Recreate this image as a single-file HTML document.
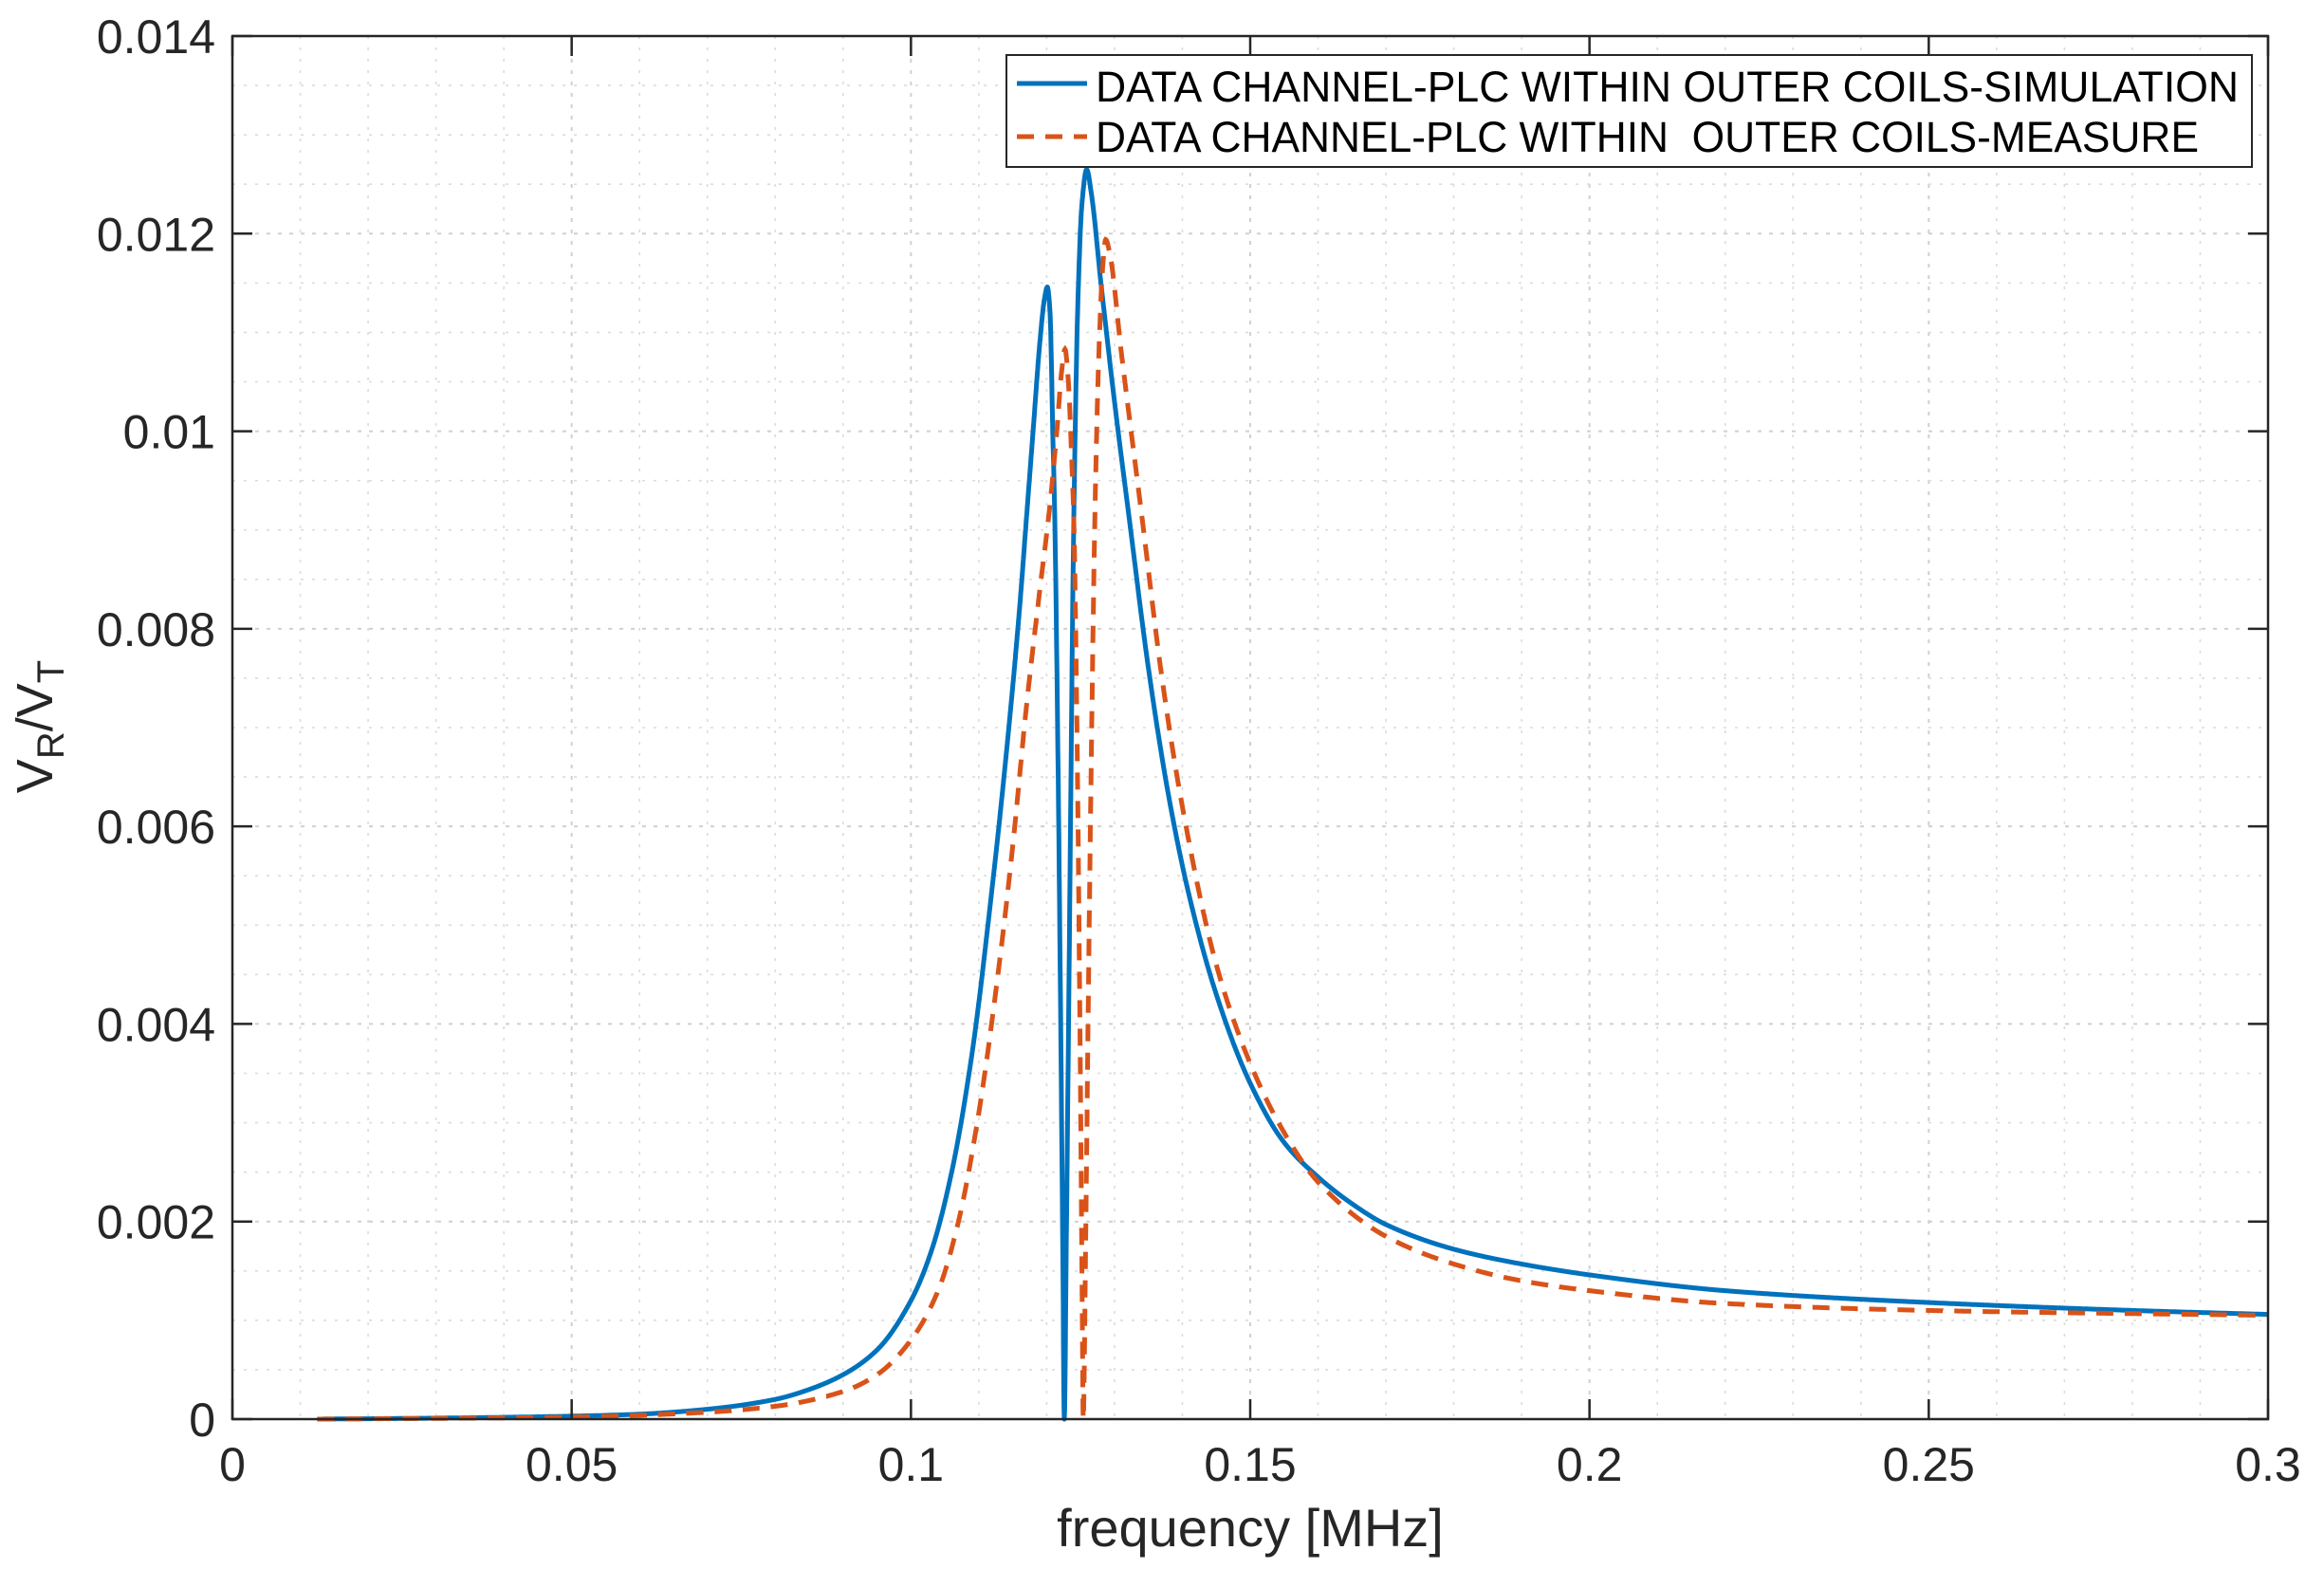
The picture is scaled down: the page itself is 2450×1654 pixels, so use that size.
<!DOCTYPE html>
<html><head><meta charset="utf-8"><style>
html,body{margin:0;padding:0;background:#fff;}
svg{display:block;font-family:"Liberation Sans",Arial,sans-serif;}
</style></head><body>
<svg id="s" width="2450" height="1654" viewBox="0 0 2450 1654" xmlns="http://www.w3.org/2000/svg">
<rect width="2450" height="1654" fill="#fff"/>
<g id="grid"></g>
<g id="curves"></g>
<g id="axes"></g>
<g id="labels" fill="#262626" font-size="50"></g>
<text x="1318" y="1630" font-size="56" fill="#262626" text-anchor="middle">frequency [MHz]</text>
<text transform="translate(55,766) rotate(-90)" font-size="54" fill="#262626" text-anchor="middle">V<tspan font-size="40" dy="12">R</tspan><tspan dy="-12">/V</tspan><tspan font-size="40" dy="12">T</tspan></text>
<g id="legend">
<rect x="1061" y="58" width="1313" height="118" fill="#fff" stroke="#262626" stroke-width="2"/>
<line x1="1072" y1="88" x2="1146" y2="88" stroke="#0072BD" stroke-width="5"/>
<line x1="1072" y1="144" x2="1146" y2="144" stroke="#D95319" stroke-width="5" stroke-dasharray="18 12"/>
<text x="1155" y="107" font-size="45" fill="#000" textLength="1205" lengthAdjust="spacingAndGlyphs">DATA CHANNEL-PLC WITHIN OUTER COILS-SIMULATION</text>
<text x="1155" y="160" font-size="45" fill="#000" textLength="1163" lengthAdjust="spacingAndGlyphs" xml:space="preserve">DATA CHANNEL-PLC WITHIN  OUTER COILS-MEASURE</text>
</g>
</svg>
<script>
var X0=245,X1=2391,Y0=1496,Y1=38;
function px(f){return X0+(f/0.3)*(X1-X0);}
function py(v){return Y0-(v/0.014)*(Y0-Y1);}
var NS="http://www.w3.org/2000/svg";
function el(p,t,a){var e=document.createElementNS(NS,t);for(var k in a)e.setAttribute(k,a[k]);p.appendChild(e);return e;}
var g=document.getElementById("grid");
for(var i=1;i<30;i++){var x=px(i*0.01);var maj=(i%5==0);
el(g,"line",{x1:x,y1:Y1,x2:x,y2:Y0,stroke:maj?"#d0d0d0":"#dcdcdc","stroke-width":maj?2:1.6,"stroke-dasharray":maj?"4 8":"3 9"});}
for(var j=1;j<28;j++){var y=py(j*0.0005);var maj=(j%4==0);
el(g,"line",{x1:X0,y1:y,x2:X1,y2:y,stroke:maj?"#d0d0d0":"#dcdcdc","stroke-width":maj?2:1.6,"stroke-dasharray":maj?"4 8":"3 9"});}
var a=document.getElementById("axes");
el(a,"rect",{x:X0,y:Y1,width:X1-X0,height:Y0-Y1,fill:"none",stroke:"#262626","stroke-width":2.5});
var lb=document.getElementById("labels");
var xl=["0","0.05","0.1","0.15","0.2","0.25","0.3"];
for(var i=0;i<=6;i++){var x=px(i*0.05);
el(a,"line",{x1:x,y1:Y0,x2:x,y2:Y0-21,stroke:"#262626","stroke-width":2.5});
el(a,"line",{x1:x,y1:Y1,x2:x,y2:Y1+21,stroke:"#262626","stroke-width":2.5});
var t=el(lb,"text",{x:x,y:1561,"text-anchor":"middle"});t.textContent=xl[i];}
var yl=["0","0.002","0.004","0.006","0.008","0.01","0.012","0.014"];
for(var j=0;j<=7;j++){var y=py(j*0.002);
el(a,"line",{x1:X0,y1:y,x2:X0+21,y2:y,stroke:"#262626","stroke-width":2.5});
el(a,"line",{x1:X1,y1:y,x2:X1-21,y2:y,stroke:"#262626","stroke-width":2.5});
var t=el(lb,"text",{x:227,y:y+18,"text-anchor":"end"});t.textContent=yl[j];}
var blue=[[0.0125,0],[0.03,0.00001],[0.05,0.00003],[0.06,0.00005],[0.07,0.0001],[0.08,0.0002],[0.085,0.0003],[0.09,0.00045],[0.095,0.0007],[0.1,0.0012],[0.103,0.0017],[0.106,0.0025],[0.109,0.0037],[0.112,0.0054],[0.114,0.0067],[0.116,0.0082],[0.117,0.0091],[0.118,0.0100],[0.119,0.0109],[0.1197,0.01135],[0.1201,0.01146],[0.1205,0.0112],[0.1209,0.0100],[0.1212,0.0091],[0.1217,0.0065],[0.1221,0.0038],[0.1224,0.0015],[0.1226,0],[0.1229,0.0018],[0.1233,0.0045],[0.1240,0.0091],[0.1246,0.0113],[0.1252,0.0123],[0.1259,0.01265],[0.1266,0.0124],[0.128,0.0115],[0.13,0.0103],[0.1322,0.0091],[0.135,0.0076],[0.138,0.0063],[0.141,0.0053],[0.145,0.0043],[0.15,0.0034],[0.155,0.0028],[0.16,0.00245],[0.165,0.00218],[0.17,0.00197],[0.18,0.00172],[0.19,0.00157],[0.2,0.00146],[0.22,0.0013],[0.25,0.00118],[0.28,0.0011],[0.3,0.00106]];
var orng=[[0.0125,0],[0.05,0.00002],[0.07,0.00007],[0.08,0.00013],[0.09,0.00028],[0.095,0.00045],[0.1,0.0008],[0.104,0.0013],[0.107,0.002],[0.11,0.0031],[0.113,0.0046],[0.115,0.0058],[0.117,0.0072],[0.119,0.0084],[0.1204,0.0092],[0.1215,0.0100],[0.1222,0.0106],[0.1227,0.01083],[0.1232,0.0105],[0.1237,0.0097],[0.1240,0.0091],[0.1245,0.0068],[0.1249,0.0040],[0.1252,0.0015],[0.1254,0],[0.1257,0.0015],[0.1261,0.0040],[0.1266,0.0068],[0.1271,0.0091],[0.1277,0.0108],[0.1283,0.0117],[0.1287,0.01194],[0.1293,0.0118],[0.131,0.0108],[0.1341,0.0091],[0.137,0.0075],[0.14,0.0062],[0.145,0.0046],[0.15,0.0036],[0.155,0.0029],[0.16,0.0024],[0.17,0.00185],[0.18,0.00157],[0.19,0.0014],[0.2,0.0013],[0.22,0.00117],[0.25,0.0011],[0.3,0.00105]];
function mono(d){
var n=d.length,xs=d.map(p=>p[0]),ys=d.map(p=>p[1]),dl=[],m=[];
for(var i=0;i<n-1;i++)dl.push((ys[i+1]-ys[i])/(xs[i+1]-xs[i]));
m[0]=dl[0];m[n-1]=dl[n-2];
for(var i=1;i<n-1;i++){if(dl[i-1]*dl[i]<=0)m[i]=0;else{var w1=2*(xs[i+1]-xs[i])+(xs[i]-xs[i-1]),w2=(xs[i+1]-xs[i])+2*(xs[i]-xs[i-1]);m[i]=(w1+w2)/(w1/dl[i-1]+w2/dl[i]);}}
var out=[];
for(var i=0;i<n-1;i++){var h=xs[i+1]-xs[i];var N=Math.max(4,Math.ceil(h/0.00005));
for(var k=0;k<N;k++){var t=k/N,t2=t*t,t3=t2*t;
var y=(2*t3-3*t2+1)*ys[i]+(t3-2*t2+t)*h*m[i]+(-2*t3+3*t2)*ys[i+1]+(t3-t2)*h*m[i+1];
out.push([xs[i]+t*h,Math.max(0,y)]);}}
out.push(d[n-1]);return out;}
function pts(d){return mono(d).map(function(p){return px(p[0]).toFixed(1)+","+py(p[1]).toFixed(1);}).join(" ");}
var c=document.getElementById("curves");
el(c,"polyline",{points:pts(blue),fill:"none",stroke:"#0072BD","stroke-width":5,"stroke-linejoin":"round"});
el(c,"polyline",{points:pts(orng),fill:"none",stroke:"#D95319","stroke-width":5,"stroke-dasharray":"18 12"});
</script>
</body></html>
